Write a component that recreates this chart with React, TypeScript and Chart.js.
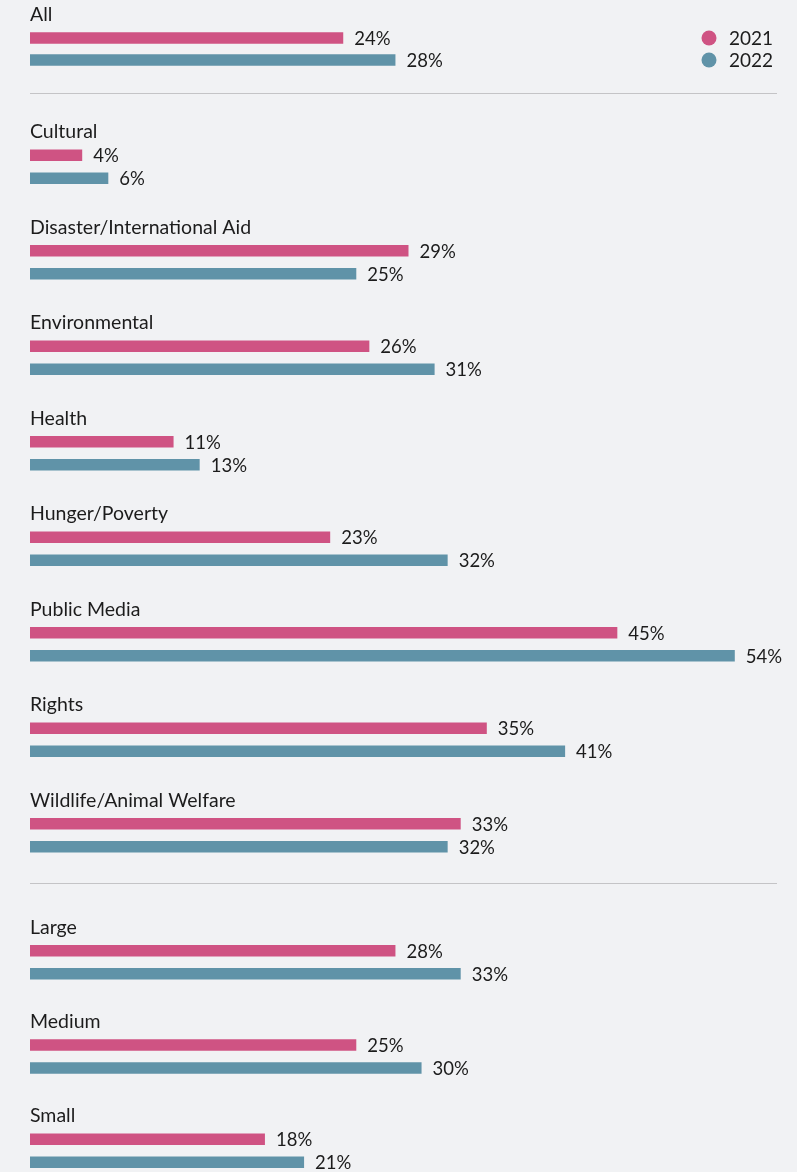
import React, { useEffect, useRef } from "react";
import { Chart, registerables } from "chart.js";

Chart.register(...registerables);

const SERIES = ["2021", "2022"];
const overallCategories = ["All"];
const overall2021 = [24];
const overall2022 = [28];

const causeCategories = [
  "Cultural",
  "Disaster/International Aid",
  "Environmental",
  "Health",
  "Hunger/Poverty",
  "Public Media",
  "Rights",
  "Wildlife/Animal Welfare",
];
const cause2021 = [4, 29, 26, 11, 23, 45, 35, 33];
const cause2022 = [6, 25, 31, 13, 32, 54, 41, 32];

const sizeCategories = ["Large", "Medium", "Small"];
const size2021 = [28, 25, 18];
const size2022 = [33, 30, 21];

const X_MAX = 58;
const PINK = "#cf5383";
const TEAL = "#6093a8";
const BG = "#f1f2f4";
const TEXT = "#1c1c1c";
const FONT = "Lato, 'Open Sans', sans-serif";

type SectionProps = {
  labels: string[];
  a: number[];
  b: number[];
  top: number;
  height: number;
  catPct: number;
  legend?: boolean;
};

function Section({ labels, a, b, top, height, catPct, legend }: SectionProps) {
  const ref = useRef<HTMLCanvasElement | null>(null);
  useEffect(() => {
    if (!ref.current) return;
    const textPlugin = {
      id: "groupText",
      afterDatasetsDraw(chart: any) {
        const ctx = chart.ctx;
        const m0 = chart.getDatasetMeta(0);
        ctx.save();
        ctx.fillStyle = TEXT;
        // group labels
        ctx.font = `19.5px ${FONT}`;
        ctx.textAlign = "left";
        ctx.textBaseline = "alphabetic";
        labels.forEach((lab, i) => {
          const bar = m0.data[i];
          ctx.fillText(lab, chart.chartArea.left, bar.y - 17);
        });
        // value labels
        ctx.font = `18.5px ${FONT}`;
        ctx.textBaseline = "middle";
        chart.data.datasets.forEach((ds: any, di: number) => {
          const meta = chart.getDatasetMeta(di);
          meta.data.forEach((bar: any, i: number) => {
            ctx.fillText(`${ds.data[i]}%`, bar.x + 11, bar.y + 1);
          });
        });
        if (legend) {
          const m1 = chart.getDatasetMeta(1);
          const ys = [m0.data[0].y, m1.data[0].y];
          const cols = [PINK, TEAL];
          ctx.font = `19px ${FONT}`;
          SERIES.forEach((s, i) => {
            ctx.beginPath();
            ctx.fillStyle = cols[i];
            ctx.arc(709, ys[i], 7.5, 0, Math.PI * 2);
            ctx.fill();
            ctx.fillStyle = TEXT;
            ctx.fillText(s, 729, ys[i] + 1);
          });
        }
        ctx.restore();
      },
    };
    const chart = new Chart(ref.current, {
      type: "bar",
      data: {
        labels,
        datasets: [
          {
            label: SERIES[0],
            data: a,
            backgroundColor: PINK,
            categoryPercentage: catPct,
            barPercentage: 0.98,
            maxBarThickness: 11.5,
          },
          {
            label: SERIES[1],
            data: b,
            backgroundColor: TEAL,
            categoryPercentage: catPct,
            barPercentage: 0.98,
            maxBarThickness: 11.5,
          },
        ],
      },
      options: {
        indexAxis: "y",
        responsive: false,
        maintainAspectRatio: false,
        animation: false,
        layout: { padding: { left: 30, right: 10, top: 0, bottom: 0 } },
        scales: {
          x: { display: false, min: 0, max: X_MAX },
          y: { display: false, offset: true },
        },
        plugins: {
          legend: { display: false },
          tooltip: { enabled: false },
        },
      },
      plugins: [textPlugin],
    } as any);
    return () => chart.destroy();
  }, []);
  return (
    <canvas
      ref={ref}
      width={797}
      height={height}
      style={{ position: "absolute", left: 0, top, width: 797, height }}
    />
  );
}

export default function App() {
  return (
    <div
      style={{
        position: "absolute",
        left: 0,
        top: 0,
        width: 797,
        height: 1172,
        background: BG,
        overflow: "hidden",
      }}
    >
      <Section
        labels={overallCategories}
        a={overall2021}
        b={overall2022}
        top={0}
        height={98}
        catPct={0.449}
        legend
      />
      <div
        style={{
          position: "absolute",
          left: 30,
          top: 92.5,
          width: 747,
          height: 1.5,
          background: "#c4c4c6",
        }}
      />
      <Section
        labels={causeCategories}
        a={cause2021}
        b={cause2022}
        top={119}
        height={764}
        catPct={0.4817}
      />
      <div
        style={{
          position: "absolute",
          left: 30,
          top: 882.5,
          width: 747,
          height: 1.5,
          background: "#c4c4c6",
        }}
      />
      <Section
        labels={sizeCategories}
        a={size2021}
        b={size2022}
        top={915}
        height={283}
        catPct={0.488}
      />
    </div>
  );
}
